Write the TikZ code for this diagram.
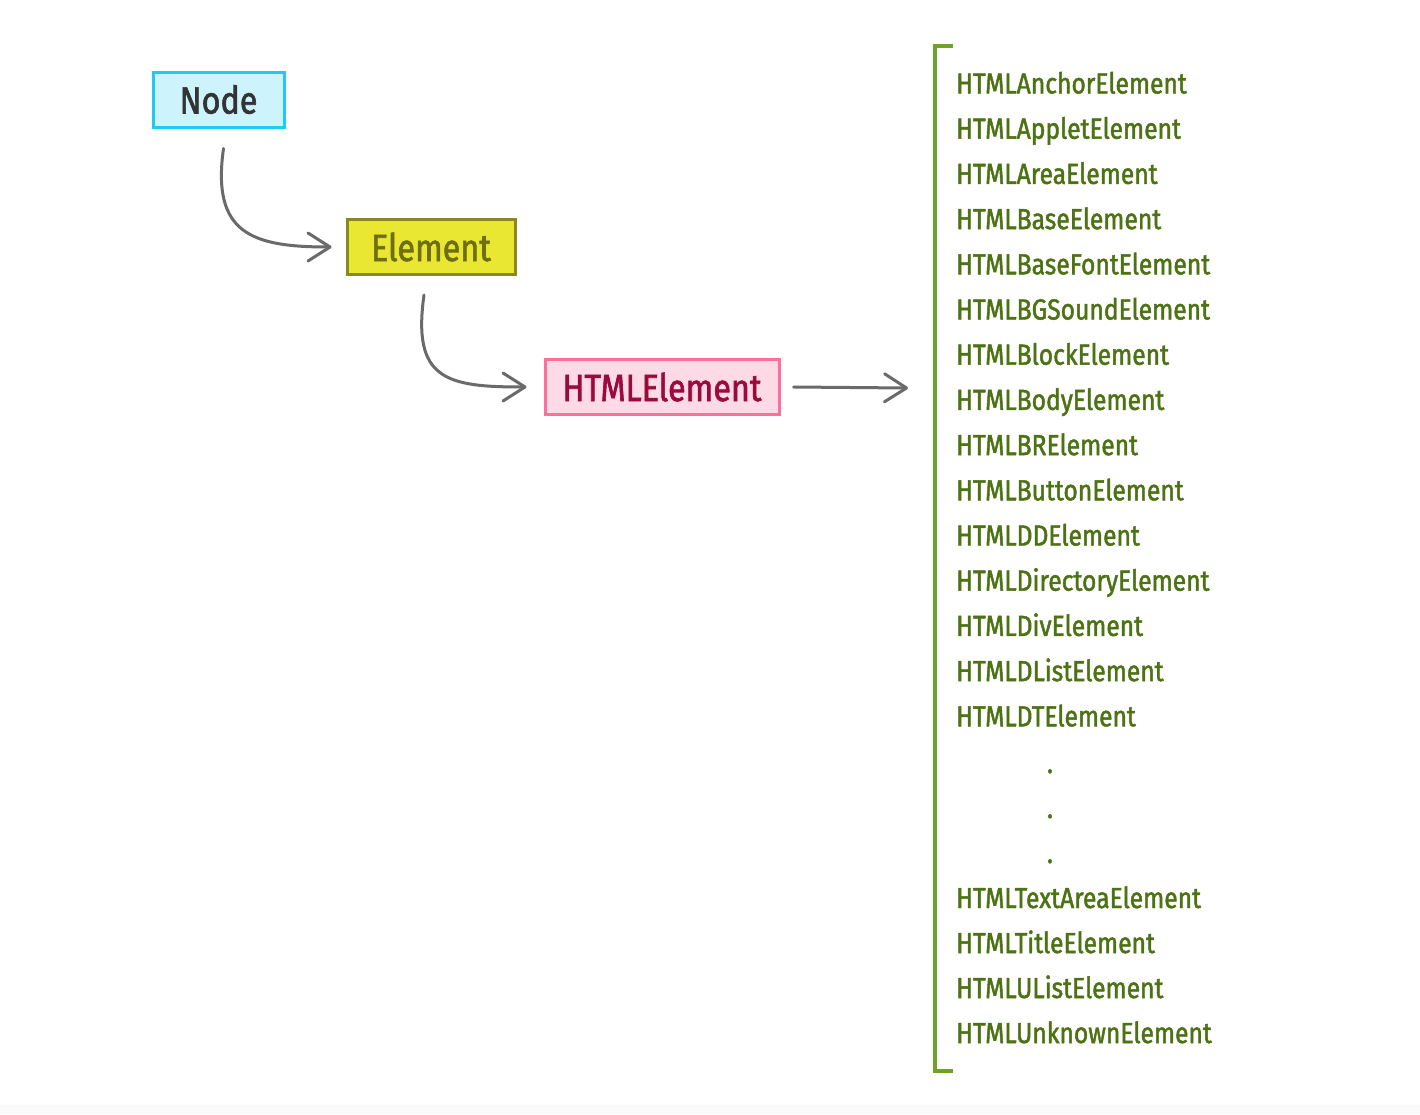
\documentclass[tikz,border=0pt]{standalone}
\usepackage{fontspec}
\setmainfont{Fira Sans}[FakeStretch=0.85,FakeBold=1.6]
\usetikzlibrary{arrows.meta}
\definecolor{nodefill}{HTML}{CDF3FC}
\definecolor{nodedraw}{HTML}{1FCBF5}
\definecolor{nodetext}{HTML}{333333}
\definecolor{elfill}{HTML}{EAE733}
\definecolor{eldraw}{HTML}{8A8A1C}
\definecolor{eltext}{HTML}{6E6E12}
\definecolor{hfill}{HTML}{FDDAE5}
\definecolor{hdraw}{HTML}{FF6F9C}
\definecolor{htext}{HTML}{9A0A3C}
\definecolor{arrowgray}{HTML}{6A6A6A}
\definecolor{brgreen}{HTML}{6FA22C}
\definecolor{listgreen}{HTML}{4D7214}
\tikzset{
  box/.style={draw, line width=3pt, minimum height=55pt, inner sep=0pt, font=\fontsize{38}{40}\selectfont},
  conn/.style={draw=arrowgray, line width=3pt, line cap=round, -{Straight Barb[length=22pt,width=28pt,line cap=round,line join=round]}},
  item/.style={anchor=base west, inner sep=0pt, text=listgreen, font=\fontsize{29}{30}\selectfont},
  dotitem/.style={anchor=base, inner sep=0pt, text=listgreen, font=\fontsize{29}{30}\selectfont},
}
\begin{document}
\begin{tikzpicture}[x=1pt,y=-1pt]
\useasboundingbox[fill=white] (0,0) rectangle (1420,1114);
\fill[black!2] (0,1105) rectangle (1420,1114);

\node[box, fill=nodefill, draw=nodedraw, text=nodetext, minimum width=131pt] (n1) at (218.5,99.5) {Node};
\node[box, fill=elfill, draw=eldraw, text=eltext, minimum width=168pt] (n2) at (431,247) {Element};
\node[box, fill=hfill, draw=hdraw, text=htext, minimum width=234pt] (n3) at (662,387) {HTMLElement};

\draw[conn] ([shift={(5,20)}]n1.south) .. controls +(-12,85) and +(-80,0) .. ([xshift=-14pt]n2.west);
\draw[conn] ([shift={(-7,19)}]n2.south) .. controls +(-12,85) and +(-80,0) .. ([xshift=-17pt]n3.west);
\coordinate (listin) at (908,388);
\draw[conn] ([xshift=13pt]n3.east) -- (listin);

\draw[brgreen, line width=4pt, line join=miter] (953,46) -- (935,46) -- (935,1071) -- (953,1071);

\foreach \t [count=\i from 0] in {HTMLAnchorElement,HTMLAppletElement,HTMLAreaElement,HTMLBaseElement,HTMLBaseFontElement,HTMLBGSoundElement,HTMLBlockElement,HTMLBodyElement,HTMLBRElement,HTMLButtonElement,HTMLDDElement,HTMLDirectoryElement,HTMLDivElement,HTMLDListElement,HTMLDTElement}
  \node[item] (l\i) at (956,93.5+45.2*\i) {\t};
\node[dotitem] (d1) at (1050,773) {.};
\node[dotitem] (d2) at (1050,818) {.};
\node[dotitem] (d3) at (1050,863) {.};
\node[item] (t1) at (956,908) {HTMLTextAreaElement};
\node[item] (t2) at (956,953) {HTMLTitleElement};
\node[item] (t3) at (956,998) {HTMLUListElement};
\node[item] (t4) at (956,1043) {HTMLUnknownElement};
\end{tikzpicture}
\end{document}
